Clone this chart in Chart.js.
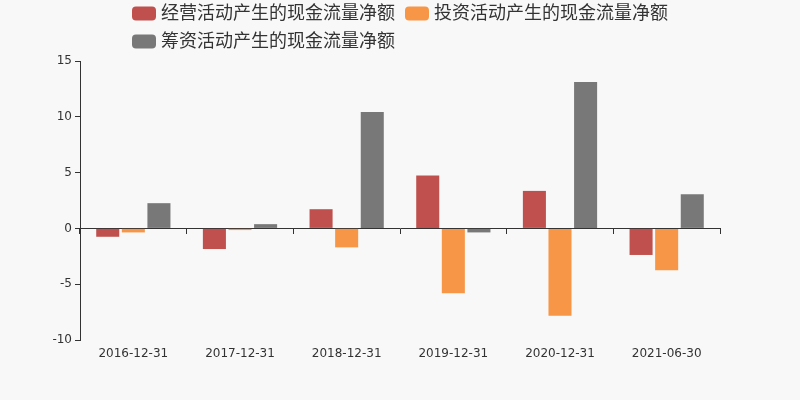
<!DOCTYPE html>
<html><head><meta charset="utf-8">
<script src="https://cdn.jsdelivr.net/npm/chart.js@4/dist/chart.umd.min.js"></script>
<style>html,body{margin:0;padding:0;background:#f8f8f8;}#wrap{width:800px;height:400px;}</style>
</head><body><div id="wrap"><canvas id="c" width="800" height="400"></canvas></div>
<script>
const categories = ['2016-12-31','2017-12-31','2018-12-31','2019-12-31','2020-12-31','2021-06-30'];
const seriesNames = ['经营活动产生的现金流量净额','投资活动产生的现金流量净额','筹资活动产生的现金流量净额'];
const operating = [-0.75, -1.85, 1.72, 4.73, 3.36, -2.38];
const investing = [-0.36, -0.15, -1.70, -5.80, -7.83, -3.75];
const financing = [2.26, 0.38, 10.44, -0.36, 13.12, 3.06];
const colors = ['#c0504d', '#f79646', '#787878'];
const yMin = -10, yMax = 15, yStep = 5;

const FONT = '"DejaVu Sans", "Noto Sans CJK SC", sans-serif';

const bgPlugin = {
  id: 'bg',
  beforeDraw(chart) {
    const ctx = chart.ctx;
    ctx.save();
    ctx.fillStyle = '#f8f8f8';
    ctx.fillRect(0, 0, chart.width, chart.height);
    ctx.restore();
  }
};

const legendPlugin = {
  id: 'customLegend',
  afterDraw(chart) {
    const ctx = chart.ctx;
    ctx.save();
    ctx.font = '18px ' + FONT;
    const boxW = 24, boxH = 14, gap = 5, itemGap = 10, maxW = chart.width - 20;
    const items = chart.data.datasets.map(ds => ({ text: ds.label, color: ds.backgroundColor, w: boxW + gap + ctx.measureText(ds.label).width }));
    const rows = [[]]; let cur = 0;
    items.forEach(it => {
      const add = (rows[rows.length - 1].length ? itemGap : 0) + it.w;
      if (cur + add > maxW && rows[rows.length - 1].length) { rows.push([it]); cur = it.w; }
      else { rows[rows.length - 1].push(it); cur += add; }
    });
    const rowWidths = rows.map(r => r.reduce((s, it, i) => s + it.w + (i ? itemGap : 0), 0));
    const blockW = Math.max(...rowWidths);
    const left = (chart.width - blockW) / 2;
    rows.forEach((r, ri) => {
      let x = left;
      const cy = 13.5 + ri * 28;
      r.forEach(it => {
        ctx.fillStyle = it.color;
        ctx.beginPath();
        ctx.roundRect(x, cy - boxH / 2, boxW, boxH, 4);
        ctx.fill();
        ctx.fillStyle = '#333';
        ctx.textBaseline = 'middle';
        ctx.textAlign = 'left';
        ctx.fillText(it.text, x + boxW + gap, cy + 1);
        x += it.w + itemGap;
      });
    });
    ctx.restore();
  }
};

new Chart(document.getElementById('c'), {
  type: 'bar',
  data: {
    labels: categories,
    datasets: [
      { label: seriesNames[0], data: operating, backgroundColor: colors[0], xAxisID: 'x' },
      { label: seriesNames[1], data: investing, backgroundColor: colors[1], xAxisID: 'x' },
      { label: seriesNames[2], data: financing, backgroundColor: colors[2], xAxisID: 'x' }
    ]
  },
  options: {
    responsive: false,
    animation: false,
    events: [],
    layout: { padding: { top: 61, right: 80, left: 0, bottom: 0 } },
    datasets: { bar: { categoryPercentage: 0.72, barPercentage: 0.9 } },
    plugins: { legend: { display: false }, tooltip: { enabled: false } },
    scales: {
      x: {
        type: 'category',
        position: 'bottom',
        grid: { display: false, drawTicks: false },
        border: { display: false },
        ticks: { color: '#333', font: { family: FONT, size: 12 }, padding: 7, maxRotation: 0, autoSkip: false },
        afterFit(scale) { scale.height = 60; }
      },
      x2: {
        type: 'category',
        labels: categories,
        position: { y: 0 },
        grid: { offset: true, drawOnChartArea: false, drawTicks: true, tickLength: 5, color: '#333' },
        border: { display: true, color: '#333', width: 1 },
        ticks: { display: false }
      },
      y: {
        min: yMin, max: yMax,
        ticks: { stepSize: yStep, color: '#333', font: { family: FONT, size: 12 }, padding: 3 },
        grid: { drawOnChartArea: false, drawTicks: true, tickLength: 5, color: '#333' },
        border: { display: true, color: '#333', width: 1 },
        afterFit(scale) { scale.width = 80; }
      }
    }
  },
  plugins: [bgPlugin, legendPlugin]
});
</script>
</body></html>
